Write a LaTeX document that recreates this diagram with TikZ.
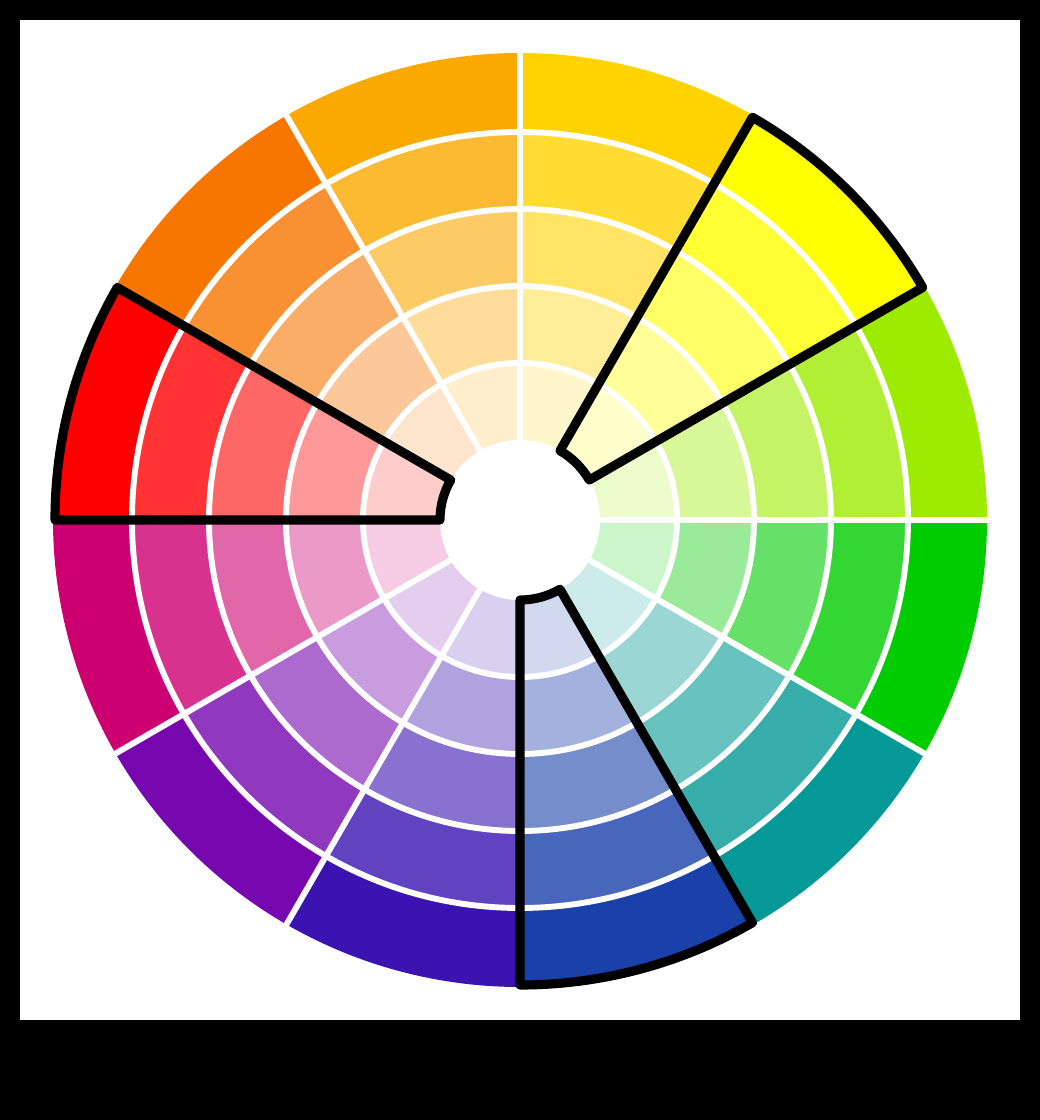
\documentclass[tikz,border=0pt]{standalone}
\usepackage{xcolor}
\definecolor{cA}{HTML}{9CEB00}
\definecolor{cB}{HTML}{FFFF00}
\definecolor{cC}{HTML}{FFD300}
\definecolor{cD}{HTML}{FBA900}
\definecolor{cE}{HTML}{F77600}
\definecolor{cF}{HTML}{FF0000}
\definecolor{cG}{HTML}{CD0072}
\definecolor{cH}{HTML}{7607AE}
\definecolor{cI}{HTML}{3A13B0}
\definecolor{cJ}{HTML}{1A40AA}
\definecolor{cK}{HTML}{049996}
\definecolor{cL}{HTML}{00CC00}
\begin{document}
\begin{tikzpicture}[x=0.025cm,y=0.025cm,
  gap/.style={draw=white,line width=4.2pt},
  hl/.style={draw=black,line width=6.5pt,line join=round,line cap=round}]
\useasboundingbox (-520,-600) rectangle (520,520);
\fill[black] (-520,-600) rectangle (520,520);
\fill[white] (-500,-500) rectangle (500,500);
% sectors
\foreach \a/\c in {0/cA,30/cB,60/cC,90/cD,120/cE,150/cF,180/cG,210/cH,240/cI,270/cJ,300/cK,330/cL}{
  \pgfmathsetmacro{\b}{\a+30}
  \foreach \k/\t in {0/100,1/80,2/60,3/40,4/20}{
    \pgfmathsetmacro{\ri}{80+77*(4-\k)}
    \pgfmathsetmacro{\ro}{\ri+77+(\k==0?2:0)}
    \fill[\c!\t!white] (\a:\ri) arc[start angle=\a,end angle=\b,radius=\ri]
      -- (\b:\ro) arc[start angle=\b,end angle=\a,radius=\ro] -- cycle;
  }
}
% white separators
\foreach \r in {157,234,311,388}{
  \draw[gap] (0,0) circle[radius=\r];
}
\foreach \a in {0,30,...,330}{
  \draw[gap] (\a:78) -- (\a:470);
}
\fill[white] (0,0) circle[radius=80];
% highlighted sectors
\foreach \a in {30,150,270}{
  \pgfmathsetmacro{\b}{\a+30}
  \draw[hl] (\a:80) -- (\a:465) arc[start angle=\a,end angle=\b,radius=465]
    -- (\b:80) arc[start angle=\b,end angle=\a,radius=80] -- cycle;
}
\end{tikzpicture}
\end{document}
